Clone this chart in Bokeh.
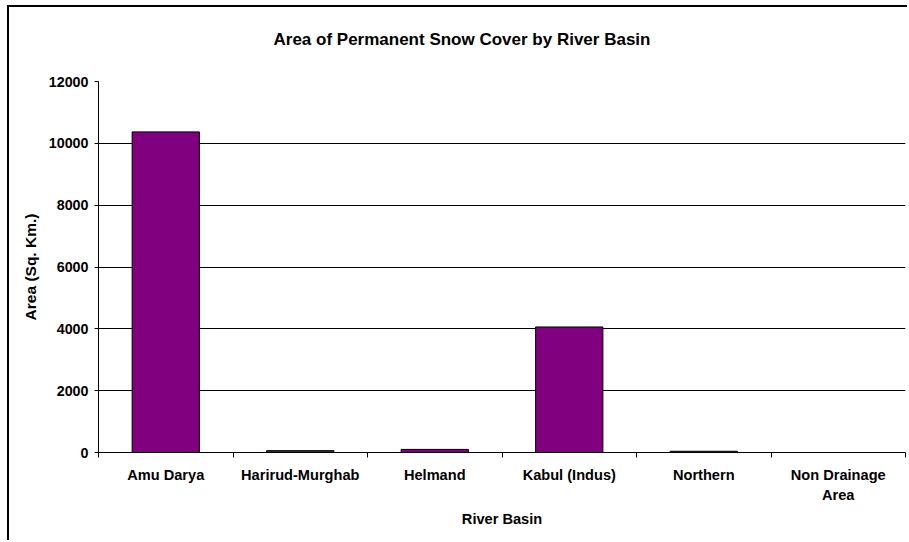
from bokeh.plotting import figure
from bokeh.models import Range1d, FixedTicker
from bokeh.embed import file_html
from bokeh.resources import INLINE
import numpy as np

title_text = "Area of Permanent Snow Cover by River Basin"
basins = ["Amu Darya", "Harirud-Murghab", "Helmand", "Kabul (Indus)", "Northern", "Non Drainage\nArea"]
area_sq_km = [10370, 60, 100, 4060, 40, 0]
y_ticks = [0, 2000, 4000, 6000, 8000, 10000, 12000]
x_label = "River Basin"
y_label = "Area (Sq. Km.)"

FONT = "Liberation Sans"
n = len(basins)
centers = list(np.arange(n) + 0.5)

p = figure(width=900, height=535, output_backend="svg", toolbar_location=None,
           x_range=Range1d(0, n), y_range=Range1d(y_ticks[0], y_ticks[-1]),
           min_border_left=89, min_border_right=4, min_border_top=74, min_border_bottom=90)
p.styles = {"border-left": "2px solid black", "border-top": "2px solid black",
            "margin-left": "7px", "margin-top": "5px"}
p.outline_line_color = None
p.background_fill_color = "white"
p.border_fill_color = "white"

p.vbar(x=centers, top=area_sq_km, width=0.5, bottom=0,
       fill_color="#800080", line_color="black", line_width=1)

# title (an empty second line lifts it higher above the plot area)
p.title.text = title_text + "\n "
p.title.align = "left"
p.title.offset = 175
p.title.text_color = "black"
p.title.text_font = FONT
p.title.text_font_style = "bold"
p.title.text_font_size = "17px"
p.title.standoff = 28

# x axis
xa = p.xaxis[0]
xa.ticker = FixedTicker(ticks=centers, minor_ticks=list(range(n + 1)))
xa.major_label_overrides = {float(c): b for c, b in zip(centers, basins)}
xa.major_tick_out = 0
xa.major_tick_in = 0
xa.minor_tick_out = 5
xa.minor_tick_in = 0
xa.axis_line_color = "black"
xa.minor_tick_line_color = "black"
xa.major_label_text_font = FONT
xa.major_label_text_font_style = "bold"
xa.major_label_text_font_size = "14.6px"
xa.major_label_text_color = "black"
xa.major_label_text_line_height = 1.25
xa.major_label_standoff = 9
xa.axis_label = x_label
xa.axis_label_text_font = FONT
xa.axis_label_text_font_style = "bold"
xa.axis_label_text_font_size = "14.6px"
xa.axis_label_text_color = "black"
xa.axis_label_standoff = 5

# y axis
ya = p.yaxis[0]
ya.ticker = FixedTicker(ticks=y_ticks)
ya.major_tick_out = 4
ya.major_tick_in = 0
ya.minor_tick_out = 0
ya.minor_tick_in = 0
ya.axis_line_color = "black"
ya.major_tick_line_color = "black"
ya.major_label_text_font = FONT
ya.major_label_text_font_style = "bold"
ya.major_label_text_font_size = "14.3px"
ya.major_label_text_color = "black"
ya.major_label_standoff = 6
ya.axis_label = y_label
ya.axis_label_text_font = FONT
ya.axis_label_text_font_style = "bold"
ya.axis_label_text_font_size = "15.5px"
ya.axis_label_text_color = "black"
ya.axis_label_standoff = 7

p.xgrid.grid_line_color = None
p.ygrid.ticker = FixedTicker(ticks=y_ticks[1:])
p.ygrid.grid_line_color = "black"
p.ygrid.grid_line_width = 1

open("out.html", "w").write(file_html(p, INLINE))
